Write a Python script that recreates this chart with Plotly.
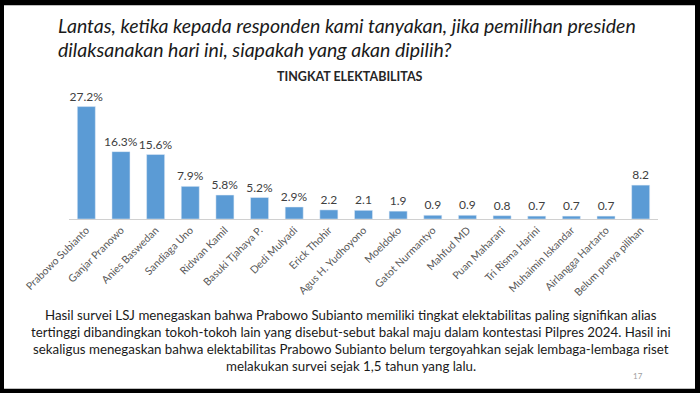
import plotly.graph_objects as go

categories = ["Prabowo Subianto", "Ganjar Pranowo", "Anies Baswedan", "Sandiaga Uno",
              "Ridwan Kamil", "Basuki Tjahaya P.", "Dedi Mulyadi", "Erick Thohir",
              "Agus H. Yudhoyono", "Moeldoko", "Gatot Nurmantyo", "Mahfud MD",
              "Puan Maharani", "Tri Risma Harini", "Muhaimin Iskandar",
              "Airlangga Hartarto", "Belum punya pilihan"]
values = [27.2, 16.3, 15.6, 7.9, 5.8, 5.2, 2.9, 2.2, 2.1, 1.9, 0.9, 0.9, 0.8, 0.7, 0.7, 0.7, 8.2]
value_labels = ["27.2%", "16.3%", "15.6%", "7.9%", "5.8%", "5.2%", "2.9%", "2.2", "2.1",
                "1.9", "0.9", "0.9", "0.8", "0.7", "0.7", "0.7", "8.2"]

title_lines = ["Lantas, ketika kepada responden kami tanyakan, jika pemilihan presiden",
               "dilaksanakan hari ini, siapakah yang akan dipilih?"]
chart_title = "TINGKAT ELEKTABILITAS"
paragraph = ["Hasil survei LSJ menegaskan bahwa Prabowo Subianto memiliki tingkat elektabilitas paling signifikan alias",
             "tertinggi dibandingkan tokoh-tokoh lain yang disebut-sebut bakal maju dalam kontestasi Pilpres 2024. Hasil ini",
             "sekaligus menegaskan bahwa elektabilitas Prabowo Subianto belum tergoyahkan sejak lembaga-lembaga riset",
             "melakukan survei sejak 1,5 tahun yang lalu."]
page_no = "17"

W, H = 700, 393
L, R, T, B = 69, 42, 95, 173.5
pw, ph = W - L - R, H - T - B

def px(x):
    return (x - L) / pw

def py(y):
    return (H - B - y) / ph

FONT = "Lato, Carlito, Calibri, sans-serif"

fig = go.Figure(go.Bar(
    x=categories, y=values, text=value_labels, textposition="outside",
    constraintext="none",
    marker_color="#5b9bd5", cliponaxis=False,
    textfont=dict(size=12, color="#404040", family=FONT),
))

shapes = [dict(type="rect", xref="paper", yref="paper", layer="below",
               x0=px(4), x1=px(695), y0=py(390), y1=py(5),
               fillcolor="white", line=dict(width=0))]

annotations = []
for i, line in enumerate(title_lines):
    annotations.append(dict(text="<i>" + line + "</i>", xref="paper", yref="paper",
                            x=px(56), y=py(25 + 24 * i),
                            xanchor="left", yanchor="middle", showarrow=False,
                            font=dict(size=19.5, color="#1a1a1a", family=FONT)))
annotations.append(dict(text="<b>" + chart_title + "</b>", xref="paper", yref="paper",
                        x=px(350), y=py(76), xanchor="center", yanchor="middle", showarrow=False,
                        font=dict(size=12.5, color="#262626", family=FONT)))
for i, line in enumerate(paragraph):
    annotations.append(dict(text=line, xref="paper", yref="paper", x=px(351), y=py(316 + 17 * i),
                            xanchor="center", yanchor="middle", showarrow=False,
                            font=dict(size=13.3, color="#1a1a1a", family=FONT)))
annotations.append(dict(text=page_no, xref="paper", yref="paper", x=px(638), y=py(377),
                        xanchor="center", yanchor="middle", showarrow=False,
                        font=dict(size=8, color="#a0a0a0", family=FONT)))

fig.update_layout(
    width=W, height=H, margin=dict(l=L, r=R, t=T, b=B, pad=0),
    paper_bgcolor="black", plot_bgcolor="white",
    shapes=shapes, annotations=annotations, showlegend=False, bargap=0.48,
    xaxis=dict(tickangle=-45, showline=True, linecolor="#d0d0d0", linewidth=1,
               tickfont=dict(size=10.5, color="#595959", family=FONT), ticks="",
               showgrid=False, fixedrange=True, automargin=False),
    yaxis=dict(range=[0, 30], visible=False, showgrid=False, zeroline=False, fixedrange=True),
)

fig.write_html("out.html", config={"displayModeBar": False},
               post_script="document.body.style.margin='0px';")
